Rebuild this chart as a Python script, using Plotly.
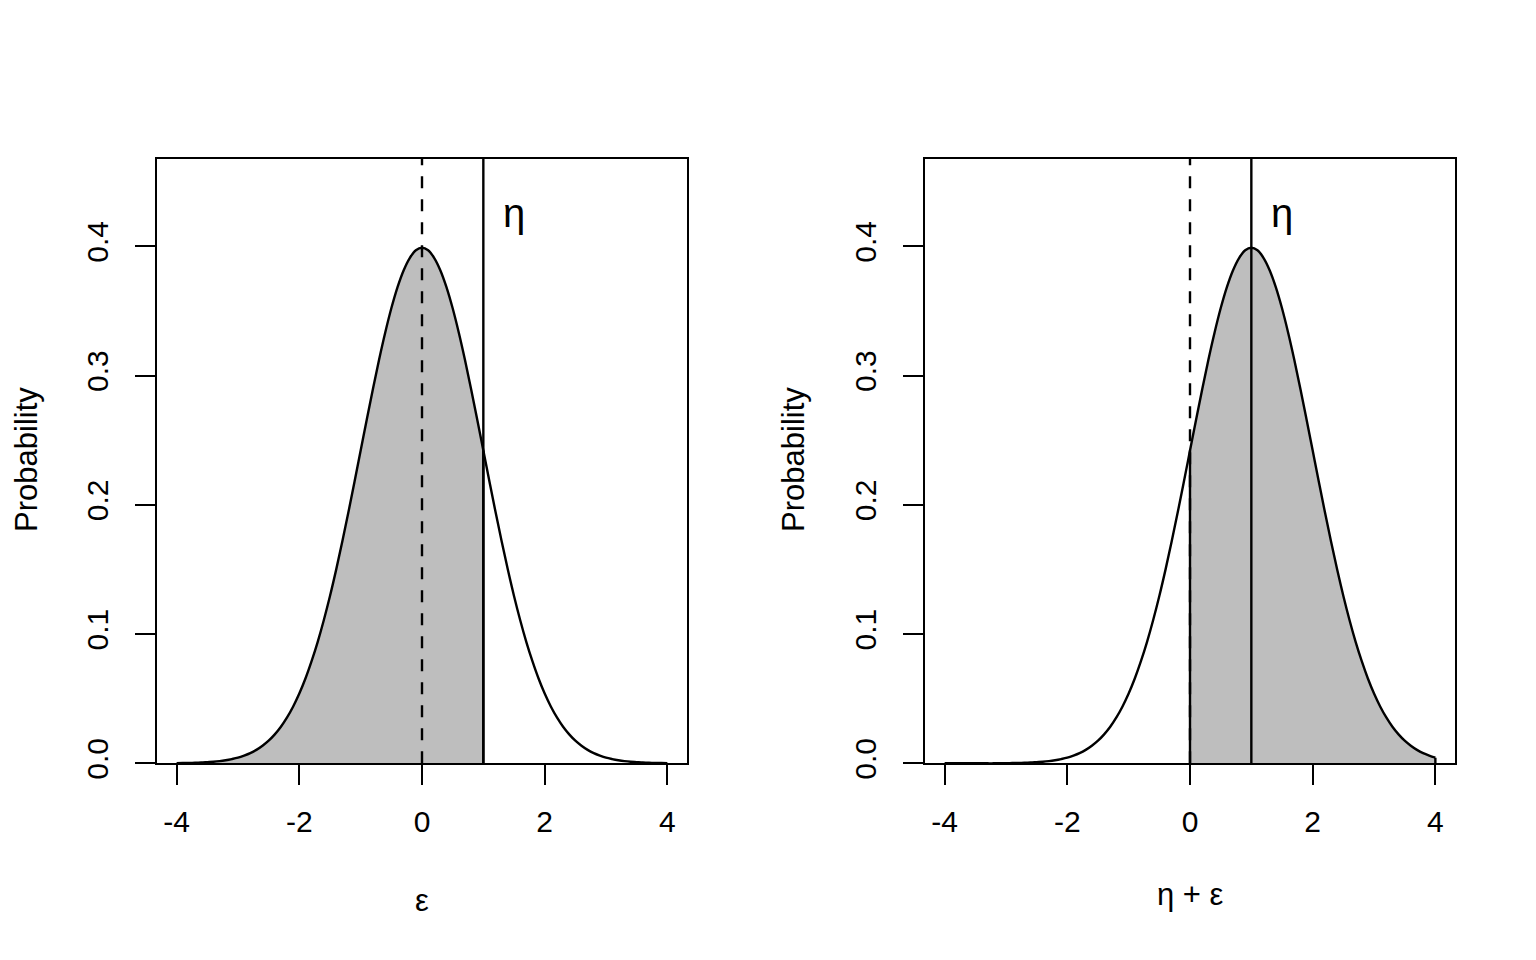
import plotly.graph_objects as go
from plotly.subplots import make_subplots

# density values, x from -4 to 4 in steps of 0.1
x_grid = [-4.0, -3.9, -3.8, -3.7, -3.6, -3.5, -3.4, -3.3, -3.2, -3.1,
          -3.0, -2.9, -2.8, -2.7, -2.6, -2.5, -2.4, -2.3, -2.2, -2.1,
          -2.0, -1.9, -1.8, -1.7, -1.6, -1.5, -1.4, -1.3, -1.2, -1.1,
          -1.0, -0.9, -0.8, -0.7, -0.6, -0.5, -0.4, -0.3, -0.2, -0.1,
          0.0, 0.1, 0.2, 0.3, 0.4, 0.5, 0.6, 0.7, 0.8, 0.9,
          1.0, 1.1, 1.2, 1.3, 1.4, 1.5, 1.6, 1.7, 1.8, 1.9,
          2.0, 2.1, 2.2, 2.3, 2.4, 2.5, 2.6, 2.7, 2.8, 2.9,
          3.0, 3.1, 3.2, 3.3, 3.4, 3.5, 3.6, 3.7, 3.8, 3.9, 4.0]

# left panel: density of epsilon
density_eps = [0.0001, 0.0002, 0.0003, 0.0004, 0.0006, 0.0009, 0.0012, 0.0017, 0.0024, 0.0033,
               0.0044, 0.0060, 0.0079, 0.0104, 0.0136, 0.0175, 0.0224, 0.0283, 0.0355, 0.0440,
               0.0540, 0.0656, 0.0790, 0.0940, 0.1109, 0.1295, 0.1497, 0.1714, 0.1942, 0.2179,
               0.2420, 0.2661, 0.2897, 0.3123, 0.3332, 0.3521, 0.3683, 0.3814, 0.3910, 0.3970,
               0.3989, 0.3970, 0.3910, 0.3814, 0.3683, 0.3521, 0.3332, 0.3123, 0.2897, 0.2661,
               0.2420, 0.2179, 0.1942, 0.1714, 0.1497, 0.1295, 0.1109, 0.0940, 0.0790, 0.0656,
               0.0540, 0.0440, 0.0355, 0.0283, 0.0224, 0.0175, 0.0136, 0.0104, 0.0079, 0.0060,
               0.0044, 0.0033, 0.0024, 0.0017, 0.0012, 0.0009, 0.0006, 0.0004, 0.0003, 0.0002, 0.0001]

# right panel: density of eta + epsilon
density_sum = [0.0000, 0.0000, 0.0000, 0.0000, 0.0000, 0.0000, 0.0000, 0.0000, 0.0000, 0.0001,
               0.0001, 0.0002, 0.0003, 0.0004, 0.0006, 0.0009, 0.0012, 0.0017, 0.0024, 0.0033,
               0.0044, 0.0060, 0.0079, 0.0104, 0.0136, 0.0175, 0.0224, 0.0283, 0.0355, 0.0440,
               0.0540, 0.0656, 0.0790, 0.0940, 0.1109, 0.1295, 0.1497, 0.1714, 0.1942, 0.2179,
               0.2420, 0.2661, 0.2897, 0.3123, 0.3332, 0.3521, 0.3683, 0.3814, 0.3910, 0.3970,
               0.3989, 0.3970, 0.3910, 0.3814, 0.3683, 0.3521, 0.3332, 0.3123, 0.2897, 0.2661,
               0.2420, 0.2179, 0.1942, 0.1714, 0.1497, 0.1295, 0.1109, 0.0940, 0.0790, 0.0656,
               0.0540, 0.0440, 0.0355, 0.0283, 0.0224, 0.0175, 0.0136, 0.0104, 0.0079, 0.0060, 0.0044]

eta = 1.0
zero = 0.0
label_x, label_y = 1.5, 0.42

x_ticks = [-4, -2, 0, 2, 4]
x_tick_labels = ["-4", "-2", "0", "2", "4"]
y_ticks = [0.0, 0.1, 0.2, 0.3, 0.4]
y_tick_labels = ["0.0", "0.1", "0.2", "0.3", "0.4"]

FONT = "Liberation Sans"
GRAY = "#BEBEBE"
FIG_W, FIG_H, OFF = 1520, 944, 8   # page has an 8px body margin
Y_SCALE, Y_SHIFT = 0.985, 1.7      # vertical squeeze seen in the screenshot


def px(x):
    return (x - OFF) / FIG_W


def py(y):
    page_y = (y + Y_SHIFT) / Y_SCALE
    return 1 - (page_y - OFF) / FIG_H


fig = make_subplots(rows=1, cols=2)

curve_line = {"color": "black", "width": 2.4, "shape": "spline", "smoothing": 1.0}

panels = [
    (1, density_eps, x_grid[0], eta),
    (2, density_sum, zero, x_grid[-1]),
]
for col, dens, lo, hi in panels:
    sx = [x for x in x_grid if lo <= x <= hi]
    sy = [y for x, y in zip(x_grid, dens) if lo <= x <= hi]
    fig.add_trace(go.Scatter(x=sx, y=sy, mode="lines", fill="tozeroy", fillcolor=GRAY,
                             line={"color": "rgba(0,0,0,0)", "width": 0, "shape": "spline", "smoothing": 1.0},
                             showlegend=False, hoverinfo="skip"), row=1, col=col)
    fig.add_trace(go.Scatter(x=x_grid, y=dens, mode="lines", line=curve_line,
                             showlegend=False), row=1, col=col)
    xref = "x" if col == 1 else "x2"
    yref = "y" if col == 1 else "y2"
    # polygon borders at the ends of the shaded area
    for edge_x, edge_y in ((sx[0], sy[0]), (sx[-1], sy[-1])):
        fig.add_shape(type="line", xref=xref, yref=yref, x0=edge_x, x1=edge_x, y0=0, y1=edge_y,
                      line={"color": "black", "width": 2.4})
    fig.add_shape(type="line", xref=xref, yref=yref + " domain", x0=zero, x1=zero, y0=0, y1=1,
                  line={"color": "black", "width": 2.4, "dash": "12px,11px"})
    fig.add_shape(type="line", xref=xref, yref=yref + " domain", x0=eta, x1=eta, y0=0, y1=1,
                  line={"color": "black", "width": 2.4})
    fig.add_annotation(x=label_x, y=label_y, xref=xref, yref=yref, yshift=8,
                       text="η", showarrow=False, font={"family": FONT, "size": 40, "color": "black"})

axis_common = dict(showgrid=False, zeroline=False, showline=True, mirror=True,
                   linecolor="black", linewidth=2, ticks="outside", ticklen=20,
                   tickwidth=2, tickcolor="black",
                   tickfont={"family": FONT, "size": 30, "color": "black"})

fig.update_xaxes(range=[-4.32, 4.32], tickvals=x_ticks, ticktext=x_tick_labels,
                 ticklabelstandoff=11, **axis_common)
fig.update_yaxes(range=[0, 0.468], tickvals=y_ticks, ticktext=y_tick_labels,
                 tickangle=-90, ticklabelstandoff=15, **axis_common)

fig.update_layout(
    width=FIG_W, height=FIG_H,
    margin={"l": 0, "r": 0, "t": 0, "b": 0},
    paper_bgcolor="white", plot_bgcolor="white",
    xaxis={"domain": [px(157), px(687)]},
    xaxis2={"domain": [px(925), px(1455)]},
    yaxis={"domain": [py(763), py(157)]},
    yaxis2={"domain": [py(763), py(157)]},
)

# axis titles
titles = [
    ("ε", 422, 900, 0),
    ("η + ε", 1190, 894, 0),
    ("Probability", 27, 459, -90),
    ("Probability", 794, 459, -90),
]
for text, tx, ty, angle in titles:
    fig.add_annotation(x=px(tx), y=py(ty), xref="paper", yref="paper", text=text, showarrow=False,
                       textangle=angle, xanchor="center", yanchor="middle",
                       font={"family": FONT, "size": 31, "color": "black"})

fig.write_html("out.html")
